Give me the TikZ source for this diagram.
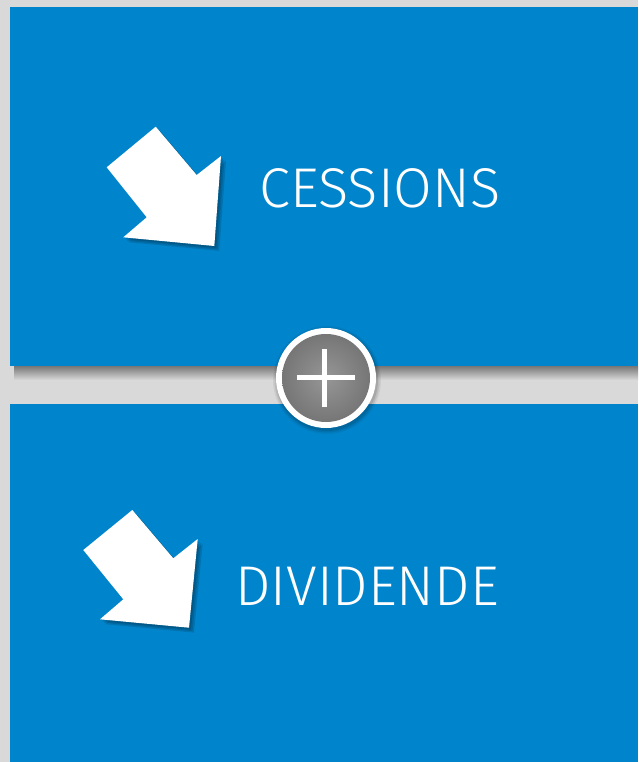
\documentclass[tikz,border=0pt]{standalone}
\usepackage{fontspec}
\setmainfont{Fira Sans}[UprightFont={* Light}]
\definecolor{bg}{HTML}{D9D9D9}
\definecolor{panel}{HTML}{0085CC}
\definecolor{knobA}{HTML}{969696}
\definecolor{knobB}{HTML}{767676}
\tikzset{
  panelbox/.style={fill=panel, draw=none},
  label/.style={text=white, font=\fontsize{56}{62}\selectfont, inner sep=0pt},
  arrowshape/.style={fill=white, draw=none},
  arrowshadow/.style={fill=black, draw=none, opacity=0.12},
}
\begin{document}
\begin{tikzpicture}[x=1pt,y=-1pt]
\useasboundingbox (0,0) rectangle (638,762);
\fill[bg] (0,0) rectangle (638,762);
% shadow under top panel
\shade[top color=black!45!bg, bottom color=bg] (14,366) rectangle (638,380);
% panels
\fill[panelbox] (10,7) rectangle (638,366);
\fill[panelbox] (10,403.5) rectangle (638,762);
% top arrow
\foreach \d in {2,3.5,5}{
\fill[arrowshadow, shift={(\d,\d)}] (106.7,167.3) -- (155.7,126.7) -- (196.7,175) -- (221,156) -- (214.3,246) -- (123.3,237.3) -- (146.7,217.3) -- cycle;}
\fill[arrowshape] (106.7,167.3) -- (155.7,126.7) -- (196.7,175) -- (221,156) -- (214.3,246) -- (123.3,237.3) -- (146.7,217.3) -- cycle;
% bottom arrow
\foreach \d in {2,3.5,5}{
\fill[arrowshadow, shift={(\d,\d)}] (83.3,550) -- (132.3,510) -- (173.3,558.3) -- (197.7,539) -- (189,627.7) -- (100,619.3) -- (123.3,599.3) -- cycle;}
\fill[arrowshape] (83.3,550) -- (132.3,510) -- (173.3,558.3) -- (197.7,539) -- (189,627.7) -- (100,619.3) -- (123.3,599.3) -- cycle;
% labels
\node[label] (cessions) at (380,188) {CESSIONS};
\node[label] (dividende) at (367,586) {DIVIDENDE};
% plus knob
\foreach \d/\o in {1/0.10,2.5/0.08,4/0.06}{
\fill[black, opacity=\o] (327,380) circle (50+\d);}
\fill[white] (326,378) circle (50);
\shade[inner color=knobA, outer color=knobB] (326,378) circle (44);
\fill[white] (296.5,375.3) rectangle (354.5,380.3);
\fill[white] (321.8,349) rectangle (326.8,406.5);
\end{tikzpicture}
\end{document}
